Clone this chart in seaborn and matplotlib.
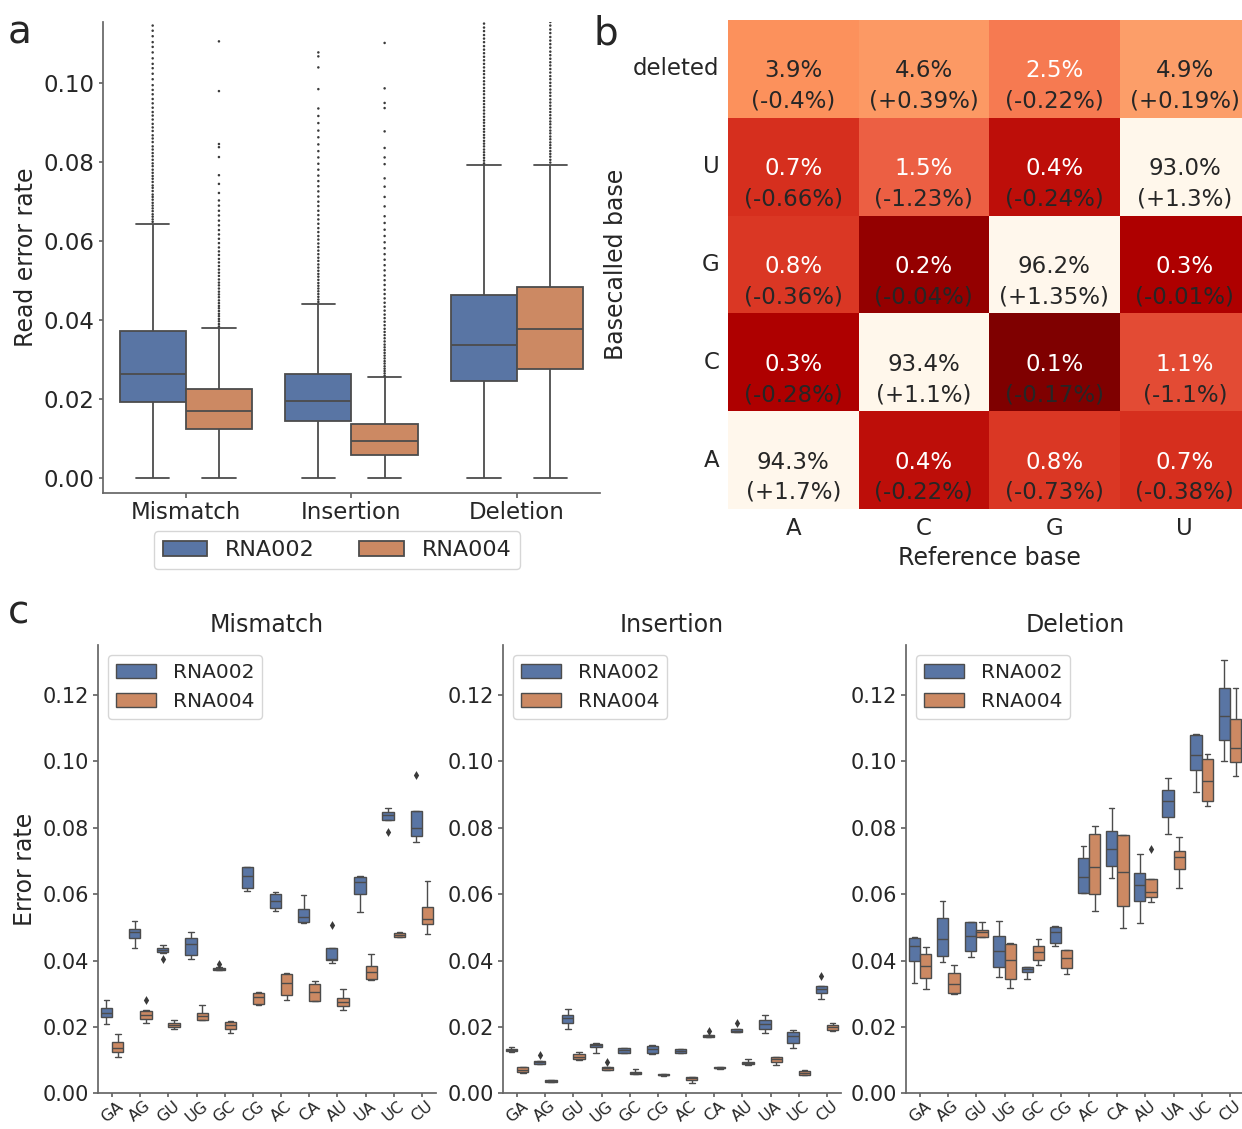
import numpy as np
import pandas as pd
import matplotlib
matplotlib.use("Agg")
import matplotlib.pyplot as plt
from matplotlib.colors import LogNorm
import seaborn as sns

# ---------------- data ----------------
chemistries = ["RNA002", "RNA004"]
error_types = ["Mismatch", "Insertion", "Deletion"]

# per-read error rate: [low whisker, Q1, median, Q3, high whisker]
read_box_rna002 = [
    [0.0, 0.0192, 0.0264, 0.0372, 0.0644],
    [0.0, 0.0144, 0.0194, 0.0264, 0.0441],
    [0.0, 0.0246, 0.0336, 0.0464, 0.0792],
]
read_box_rna004 = [
    [0.0, 0.0124, 0.0171, 0.0225, 0.0380],
    [0.0, 0.0058, 0.0093, 0.0136, 0.0257],
    [0.0, 0.0276, 0.0378, 0.0485, 0.0792],
]

# outlying reads above the upper whisker
read_fliers_mismatch_rna002 = [
    0.0649, 0.0655, 0.0662, 0.0668, 0.0676, 0.0683, 0.0690, 0.0697, 0.0705, 0.0712,
    0.0718, 0.0727, 0.0735, 0.0741, 0.0750, 0.0758, 0.0765, 0.0773, 0.0781, 0.0790,
    0.0797, 0.0806, 0.0815, 0.0823, 0.0832, 0.0840, 0.0851, 0.0860, 0.0868, 0.0879,
    0.0888, 0.0897, 0.0908, 0.0918, 0.0927, 0.0938, 0.0949, 0.0960, 0.0972, 0.0983,
    0.0995, 0.1010, 0.1024, 0.1038, 0.1049, 0.1063, 0.1078, 0.1092, 0.1104, 0.1119,
    0.1133, 0.1146,
]
read_fliers_mismatch_rna004 = [
    0.0384, 0.0390, 0.0397, 0.0403, 0.0410, 0.0416, 0.0423, 0.0430, 0.0436, 0.0443,
    0.0450, 0.0458, 0.0465, 0.0472, 0.0480, 0.0488, 0.0495, 0.0503, 0.0512, 0.0520,
    0.0528, 0.0537, 0.0546, 0.0555, 0.0565, 0.0574, 0.0584, 0.0595, 0.0606, 0.0617,
    0.0628, 0.0640, 0.0652, 0.0665, 0.0677, 0.0690, 0.0703, 0.0722, 0.0745, 0.0767,
    0.0813, 0.0838, 0.0846, 0.0980, 0.1106,
]
read_fliers_insertion_rna002 = [
    0.0446, 0.0452, 0.0459, 0.0466, 0.0473, 0.0480, 0.0487, 0.0494, 0.0502, 0.0510,
    0.0517, 0.0525, 0.0533, 0.0541, 0.0550, 0.0558, 0.0567, 0.0576, 0.0585, 0.0594,
    0.0604, 0.0613, 0.0623, 0.0633, 0.0644, 0.0655, 0.0666, 0.0677, 0.0689, 0.0700,
    0.0713, 0.0726, 0.0739, 0.0752, 0.0766, 0.0781, 0.0796, 0.0812, 0.0828, 0.0845,
    0.0863, 0.0880, 0.0899, 0.0917, 0.0936, 0.0985, 0.1040, 0.1068, 0.1078,
]
read_fliers_insertion_rna004 = [
    0.0259, 0.0265, 0.0271, 0.0277, 0.0283, 0.0290, 0.0296, 0.0303, 0.0310, 0.0317,
    0.0324, 0.0331, 0.0338, 0.0346, 0.0354, 0.0362, 0.0370, 0.0378, 0.0387, 0.0396,
    0.0405, 0.0414, 0.0424, 0.0434, 0.0444, 0.0455, 0.0466, 0.0477, 0.0489, 0.0501,
    0.0513, 0.0526, 0.0539, 0.0553, 0.0567, 0.0582, 0.0597, 0.0613, 0.0629, 0.0646,
    0.0663, 0.0688, 0.0712, 0.0738, 0.0759, 0.0795, 0.0812, 0.0836, 0.0878, 0.0937,
    0.0950, 0.0987, 0.1102,
]
read_fliers_deletion_rna002 = [
    0.0797, 0.0804, 0.0811, 0.0818, 0.0825, 0.0832, 0.0840, 0.0847, 0.0854, 0.0862,
    0.0869, 0.0877, 0.0884, 0.0892, 0.0900, 0.0907, 0.0915, 0.0923, 0.0931, 0.0939,
    0.0947, 0.0955, 0.0963, 0.0972, 0.0980, 0.0988, 0.0997, 0.1005, 0.1014, 0.1023,
    0.1031, 0.1040, 0.1049, 0.1058, 0.1067, 0.1076, 0.1085, 0.1094, 0.1104, 0.1113,
    0.1122, 0.1132, 0.1141, 0.1151, 0.1161, 0.1170,
]
read_fliers_deletion_rna004 = [
    0.0799, 0.0806, 0.0814, 0.0821, 0.0828, 0.0836, 0.0843, 0.0850, 0.0858, 0.0865,
    0.0873, 0.0880, 0.0888, 0.0896, 0.0903, 0.0911, 0.0919, 0.0927, 0.0935, 0.0943,
    0.0951, 0.0959, 0.0968, 0.0976, 0.0984, 0.0993, 0.1001, 0.1010, 0.1018, 0.1027,
    0.1036, 0.1045, 0.1053, 0.1062, 0.1071, 0.1080, 0.1090, 0.1099, 0.1108, 0.1117,
    0.1127, 0.1136, 0.1146, 0.1155, 0.1165, 0.1174,
]

# basecalling confusion (% of reference base), RNA004, with change vs RNA002
ref_bases = ["A", "C", "G", "U"]
called_bases = ["deleted", "U", "G", "C", "A"]
confusion_pct = [
    [3.9, 4.6, 2.5, 4.9],
    [0.7, 1.5, 0.4, 93.0],
    [0.8, 0.2, 96.2, 0.3],
    [0.3, 93.4, 0.1, 1.1],
    [94.3, 0.4, 0.8, 0.7],
]
confusion_change = [
    ["-0.4", "+0.39", "-0.22", "+0.19"],
    ["-0.66", "-1.23", "-0.24", "+1.3"],
    ["-0.36", "-0.04", "+1.35", "-0.01"],
    ["-0.28", "+1.1", "-0.17", "-1.1"],
    ["+1.7", "-0.22", "-0.73", "-0.38"],
]

# per-dinucleotide error rate: [low whisker, Q1, median, Q3, high whisker]
pairs = ["GA", "AG", "GU", "UG", "GC", "CG", "AC", "CA", "AU", "UA", "UC", "CU"]
mismatch_rna002 = [
    [0.0210, 0.0230, 0.0243, 0.0257, 0.0280],
    [0.0437, 0.0468, 0.0485, 0.0495, 0.0520],
    [0.0424, 0.0425, 0.0432, 0.0437, 0.0447],
    [0.0405, 0.0418, 0.0450, 0.0468, 0.0485],
    [0.0373, 0.0373, 0.0376, 0.0379, 0.0381],
    [0.0609, 0.0619, 0.0656, 0.0681, 0.0681],
    [0.0550, 0.0558, 0.0579, 0.0599, 0.0607],
    [0.0513, 0.0515, 0.0530, 0.0555, 0.0597],
    [0.0393, 0.0402, 0.0405, 0.0438, 0.0438],
    [0.0545, 0.0599, 0.0636, 0.0652, 0.0654],
    [0.0824, 0.0824, 0.0837, 0.0847, 0.0859],
    [0.0756, 0.0776, 0.0799, 0.0851, 0.0851],
]
mismatch_rna004 = [
    [0.0111, 0.0124, 0.0138, 0.0154, 0.0178],
    [0.0213, 0.0223, 0.0235, 0.0248, 0.0250],
    [0.0193, 0.0200, 0.0207, 0.0213, 0.0220],
    [0.0222, 0.0222, 0.0233, 0.0242, 0.0267],
    [0.0183, 0.0193, 0.0205, 0.0215, 0.0218],
    [0.0265, 0.0270, 0.0290, 0.0303, 0.0305],
    [0.0280, 0.0297, 0.0332, 0.0360, 0.0362],
    [0.0278, 0.0278, 0.0305, 0.0328, 0.0337],
    [0.0252, 0.0262, 0.0275, 0.0287, 0.0315],
    [0.0340, 0.0345, 0.0365, 0.0383, 0.0420],
    [0.0470, 0.0472, 0.0478, 0.0483, 0.0485],
    [0.0480, 0.0510, 0.0524, 0.0562, 0.0640],
]
insertion_rna002 = [
    [0.0126, 0.0128, 0.0131, 0.0135, 0.0139],
    [0.0089, 0.0089, 0.0094, 0.0098, 0.0099],
    [0.0195, 0.0212, 0.0227, 0.0235, 0.0255],
    [0.0121, 0.0139, 0.0145, 0.0149, 0.0151],
    [0.0121, 0.0123, 0.0131, 0.0136, 0.0138],
    [0.0119, 0.0121, 0.0133, 0.0143, 0.0145],
    [0.0122, 0.0123, 0.0128, 0.0133, 0.0134],
    [0.0170, 0.0171, 0.0174, 0.0176, 0.0177],
    [0.0185, 0.0185, 0.0189, 0.0193, 0.0193],
    [0.0183, 0.0195, 0.0210, 0.0222, 0.0235],
    [0.0138, 0.0151, 0.0173, 0.0186, 0.0191],
    [0.0285, 0.0303, 0.0315, 0.0322, 0.0322],
]
insertion_rna004 = [
    [0.0063, 0.0064, 0.0071, 0.0079, 0.0081],
    [0.0033, 0.0034, 0.0037, 0.0039, 0.0040],
    [0.0101, 0.0104, 0.0111, 0.0118, 0.0126],
    [0.0070, 0.0071, 0.0076, 0.0079, 0.0080],
    [0.0058, 0.0058, 0.0063, 0.0066, 0.0074],
    [0.0053, 0.0054, 0.0057, 0.0059, 0.0060],
    [0.0030, 0.0041, 0.0047, 0.0049, 0.0049],
    [0.0075, 0.0076, 0.0078, 0.0079, 0.0080],
    [0.0086, 0.0089, 0.0093, 0.0096, 0.0103],
    [0.0086, 0.0094, 0.0103, 0.0109, 0.0111],
    [0.0055, 0.0056, 0.0063, 0.0069, 0.0071],
    [0.0189, 0.0192, 0.0200, 0.0207, 0.0212],
]
deletion_rna002 = [
    [0.0332, 0.0400, 0.0445, 0.0467, 0.0470],
    [0.0395, 0.0413, 0.0465, 0.0527, 0.0580],
    [0.0412, 0.0428, 0.0475, 0.0515, 0.0515],
    [0.0350, 0.0380, 0.0430, 0.0475, 0.0518],
    [0.0345, 0.0365, 0.0375, 0.0380, 0.0382],
    [0.0445, 0.0453, 0.0485, 0.0502, 0.0505],
    [0.0604, 0.0604, 0.0653, 0.0709, 0.0746],
    [0.0649, 0.0684, 0.0736, 0.0789, 0.0859],
    [0.0512, 0.0580, 0.0627, 0.0664, 0.0722],
    [0.0781, 0.0831, 0.0881, 0.0914, 0.0951],
    [0.0906, 0.0975, 0.1018, 0.1078, 0.1083],
    [0.1001, 0.1063, 0.1136, 0.1220, 0.1306],
]
deletion_rna004 = [
    [0.0315, 0.0347, 0.0385, 0.0420, 0.0440],
    [0.0300, 0.0302, 0.0330, 0.0362, 0.0388],
    [0.0470, 0.0470, 0.0485, 0.0492, 0.0515],
    [0.0318, 0.0346, 0.0402, 0.0450, 0.0452],
    [0.0387, 0.0402, 0.0425, 0.0445, 0.0465],
    [0.0360, 0.0377, 0.0408, 0.0432, 0.0432],
    [0.0548, 0.0601, 0.0681, 0.0782, 0.0804],
    [0.0498, 0.0565, 0.0667, 0.0779, 0.0779],
    [0.0575, 0.0591, 0.0607, 0.0647, 0.0647],
    [0.0617, 0.0677, 0.0711, 0.0731, 0.0772],
    [0.0866, 0.0879, 0.0942, 0.1008, 0.1023],
    [0.0957, 0.0998, 0.1041, 0.1128, 0.1221],
]
# outlying replicates: (chemistry, dinucleotide, error rate)
mismatch_fliers = [("RNA002", "GU", 0.0406), ("RNA002", "GC", 0.0390),
                   ("RNA002", "AU", 0.0507), ("RNA002", "UC", 0.0786),
                   ("RNA002", "CU", 0.0958), ("RNA004", "AG", 0.0280)]
insertion_fliers = [("RNA002", "AG", 0.0116), ("RNA002", "CA", 0.0188),
                    ("RNA002", "AU", 0.0212), ("RNA002", "CU", 0.0353),
                    ("RNA004", "UG", 0.0094)]
deletion_fliers = [("RNA004", "AU", 0.0737)]

# ---------------- style ----------------
sns.set_theme(style="ticks")
plt.rcParams["font.family"] = ["DejaVu Sans"]
plt.rcParams["axes.edgecolor"] = "0.4"
plt.rcParams["xtick.color"] = "0.4"
plt.rcParams["ytick.color"] = "0.4"
plt.rcParams["xtick.labelcolor"] = "0.15"
plt.rcParams["ytick.labelcolor"] = "0.15"
palette = dict(zip(chemistries, sns.color_palette("deep", 2)))
flier_palette = {c: "#3a3a3a" for c in chemistries}


def long_frame(groups, series_by_chem):
    rows = []
    for chem, series in series_by_chem.items():
        for g, vals in zip(groups, series):
            for v in vals:
                rows.append((g, chem, v))
    return pd.DataFrame(rows, columns=["group", "chem", "value"])


fig = plt.figure(figsize=(12.42, 11.29), dpi=100)

# ---------------- a: read error rates ----------------
ax_a = fig.add_axes([0.0829, 0.5633, 0.4002, 0.4172])
df_a = long_frame(error_types, {"RNA002": read_box_rna002, "RNA004": read_box_rna004})
sns.boxplot(data=df_a, x="group", y="value", hue="chem", order=error_types,
            hue_order=chemistries, palette=palette, whis=(0, 100),
            showfliers=False, linewidth=1.3, ax=ax_a)
flier_rows = []
for name, f2, f4 in [("Mismatch", read_fliers_mismatch_rna002, read_fliers_mismatch_rna004),
                     ("Insertion", read_fliers_insertion_rna002, read_fliers_insertion_rna004),
                     ("Deletion", read_fliers_deletion_rna002, read_fliers_deletion_rna004)]:
    flier_rows += [(name, "RNA002", v) for v in f2]
    flier_rows += [(name, "RNA004", v) for v in f4]
df_af = pd.DataFrame(flier_rows, columns=["group", "chem", "value"])
sns.stripplot(data=df_af, x="group", y="value", hue="chem", order=error_types,
              hue_order=chemistries, palette=flier_palette, dodge=True,
              jitter=False, size=1.8, legend=False, ax=ax_a)
ax_a.set_ylim(-0.0038, 0.1155)
ax_a.set_yticks(np.arange(0, 0.101, 0.02))
ax_a.set_xlabel("")
ax_a.set_ylabel("Read error rate", fontsize=17)
ax_a.tick_params(labelsize=16.5)
ax_a.tick_params(axis="x", length=3.5, pad=2)
ax_a.tick_params(axis="y", length=3, pad=3)
sns.despine(ax=ax_a)
sns.move_legend(ax_a, "upper center", bbox_to_anchor=(0.471, -0.058), ncol=2,
                title=None, fontsize=16, frameon=True, columnspacing=2.0)

# ---------------- b: confusion heatmap ----------------
ax_b = fig.add_axes([0.5862, 0.5492, 0.4203, 0.4331])
pct_df = pd.DataFrame(confusion_pct, index=called_bases, columns=ref_bases)
pct_labels = np.array([[f"{v:.1f}%" for v in row] for row in confusion_pct])
sns.heatmap(pct_df, ax=ax_b, cmap="OrRd_r", norm=LogNorm(vmin=0.14, vmax=96.2),
            annot=pct_labels, fmt="", cbar=False, annot_kws={"fontsize": 16.5})
for i, row in enumerate(confusion_change):
    for j, txt in enumerate(row):
        ax_b.text(j + 0.5, i + 0.5 + 0.33, f"({txt}%)", ha="center", va="center",
                  fontsize=16.5, color="#262626")
for t in ax_b.texts:
    x, y = t.get_position()
    if abs((y % 1) - 0.5) < 1e-6:
        t.set_y(y + 0.02)
ax_b.set_xlabel("Reference base", fontsize=17)
ax_b.set_ylabel("Basecalled base", fontsize=17)
ax_b.tick_params(length=0, labelsize=16.5, pad=6)
ax_b.set_yticklabels(called_bases, rotation=0)

# ---------------- c: per-dinucleotide error rates ----------------
panel_c = [
    ("Mismatch", mismatch_rna002, mismatch_rna004, mismatch_fliers, 0.0789),
    ("Insertion", insertion_rna002, insertion_rna004, insertion_fliers, 0.4050),
    ("Deletion", deletion_rna002, deletion_rna004, deletion_fliers, 0.7295),
]
for k, (title, s2, s4, fl, left) in enumerate(panel_c):
    ax = fig.add_axes([left, 0.0315, 0.2721, 0.3972])
    df_c = long_frame(pairs, {"RNA002": s2, "RNA004": s4})
    sns.boxplot(data=df_c, x="group", y="value", hue="chem", order=pairs,
                hue_order=chemistries, palette=palette, whis=(0, 100),
                showfliers=False, linewidth=1.0, ax=ax)
    df_f = pd.DataFrame([(p, c, v) for c, p, v in fl], columns=["group", "chem", "value"])
    sns.stripplot(data=df_f, x="group", y="value", hue="chem", order=pairs,
                  hue_order=chemistries, palette=flier_palette, dodge=True,
                  jitter=False, size=4.5, marker="d", legend=False, ax=ax)
    ax.set_ylim(0, 0.135)
    ax.set_yticks(np.arange(0, 0.121, 0.02))
    ax.set_xlabel("")
    ax.set_ylabel("Error rate" if k == 0 else "", fontsize=17)
    ax.set_title(title, fontsize=17, pad=9)
    ax.tick_params(axis="y", labelsize=15, length=3.5, pad=3)
    ax.tick_params(axis="x", labelsize=11.5, rotation=40, length=3, pad=0.5)
    sns.despine(ax=ax)
    sns.move_legend(ax, "upper left", title=None, fontsize=14.5, frameon=True)

# ---------------- panel letters ----------------
fig.text(0.006, 0.988, "a", fontsize=28, va="top", color="0.15")
fig.text(0.478, 0.987, "b", fontsize=28, va="top", color="0.15")
fig.text(0.006, 0.474, "c", fontsize=28, va="top", color="0.15")

fig.savefig("out.png", dpi=100)
